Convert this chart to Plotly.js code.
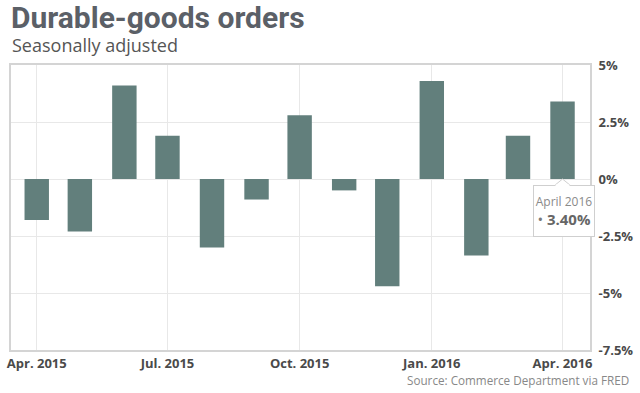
<!DOCTYPE html>
<html>
<head>
<meta charset="utf-8">
<script src="https://cdn.plot.ly/plotly-3.0.1.min.js"></script>
<style>
html,body{margin:0;padding:0;background:#fff;}
#chart{width:640px;height:393px;}
</style>
</head>
<body>
<div id="chart"></div>
<script>
// ---- data ----
const months = ['2015-04-01','2015-05-01','2015-06-01','2015-07-01','2015-08-01','2015-09-01',
                '2015-10-01','2015-11-01','2015-12-01','2016-01-01','2016-02-01','2016-03-01','2016-04-01'];
const changes = [-1.8, -2.3, 4.1, 1.9, -3.0, -0.9, 2.8, -0.5, -4.7, 4.3, -3.35, 1.9, 3.4];
const xTickVals = ['2015-04-01','2015-07-01','2015-10-01','2016-01-01','2016-04-01'];
const xTickText = ['Apr. 2015','Jul. 2015','Oct. 2015','Jan. 2016','Apr. 2016'];
const yTickVals = [5, 2.5, 0, -2.5, -5, -7.5];
const yTickText = yTickVals.map(v => v + '%');
const tooltipLabel = 'April 2016';
const titleText = 'Durable-goods orders';
const subtitleText = 'Seasonally adjusted';
const sourceText = 'Source: Commerce Department via FRED';

// ---- layout geometry ----
const W = 640, H = 393;
const M = {l: 11, r: 50, t: 65, b: 42.5};
const pw = W - M.l - M.r, ph = H - M.t - M.b;
const px2x = p => (p - M.l) / pw;
const px2y = p => (H - M.b - p) / ph;

const barColor = '#627f7c';
const gridColor = '#e8e8e8';
const DAY = 86400000;

const last = months.length - 1;

const trace = {
  type: 'bar',
  x: months,
  y: changes,
  width: months.map(() => 17 * DAY),
  marker: {color: barColor},
  hoverinfo: 'skip'
};

const tipBase = {xref: 'x', yref: 'y', x: months[last], y: 0, xanchor: 'center', showarrow: false};

const layout = {
  width: W, height: H,
  margin: M,
  paper_bgcolor: '#fff',
  plot_bgcolor: '#fff',
  showlegend: false,
  title: {
    text: '<b>' + titleText + '</b>',
    font: {family: 'Roboto', size: 30, color: '#5b6067'},
    xref: 'container', x: 11 / W, xanchor: 'left',
    yref: 'container', y: 1 - 17 / H, yanchor: 'middle'
  },
  xaxis: {
    type: 'date',
    range: ['2015-03-14 02:00', '2016-04-20 03:00'],
    tickmode: 'array',
    tickvals: xTickVals,
    ticktext: xTickText,
    showgrid: true,
    gridcolor: gridColor,
    gridwidth: 1,
    showline: true,
    mirror: true,
    linecolor: '#d4d4d4',
    linewidth: 2,
    ticks: '',
    tickfont: {family: 'Open Sans', size: 13, color: '#4a4a4a', weight: 700},
    fixedrange: true
  },
  yaxis: {
    side: 'right',
    range: [-7.5, 5],
    tickmode: 'array',
    tickvals: yTickVals,
    ticktext: yTickText,
    showgrid: true,
    gridcolor: gridColor,
    gridwidth: 1,
    zeroline: false,
    showline: true,
    mirror: true,
    linecolor: '#d4d4d4',
    linewidth: 2,
    ticks: '',
    ticklabelstandoff: 4,
    tickfont: {family: 'Open Sans', size: 13, color: '#4a4a4a', weight: 700},
    fixedrange: true
  },
  shapes: [
    {
      type: 'path',
      xref: 'x', yref: 'y',
      xsizemode: 'pixel', ysizemode: 'pixel',
      xanchor: months[last], yanchor: 0,
      path: 'M -8,-6.5 L 0,0 L 8,-6.5',
      fillcolor: '#ffffff',
      line: {color: '#cfcfcf', width: 1},
      layer: 'above'
    }
  ],
  annotations: [
    {
      xref: 'paper', yref: 'paper',
      x: px2x(10), y: px2y(45), xanchor: 'left', yanchor: 'middle',
      text: subtitleText, showarrow: false,
      font: {family: 'Open Sans', size: 18, color: '#555555'}
    },
    {
      xref: 'paper', yref: 'paper',
      x: px2x(631), y: px2y(381), xanchor: 'right', yanchor: 'middle',
      text: sourceText, showarrow: false,
      font: {family: 'Open Sans', size: 11.7, color: '#888888'}
    },
    // tooltip box with label and value
    Object.assign({}, tipBase, {
      yanchor: 'top', yshift: -6, xshift: 1,
      text: '<span style="font-size:12px;color:#8a8a8a">' + tooltipLabel + '</span><br>' +
            '<span style="font-size:15px;color:#7a7a7a">•</span>' +
            '<span style="font-size:15px;color:#666666"><b> ' + changes[last].toFixed(2) + '%</b></span>',
      font: {family: 'Open Sans', size: 14, color: '#666666'},
      align: 'center',
      bgcolor: '#ffffff', bordercolor: '#cfcfcf', borderwidth: 1, borderpad: 0,
      width: 60, height: 50
    }),
    // cover for notch base
    Object.assign({}, tipBase, {
      yanchor: 'top', yshift: -5,
      text: '&nbsp;', font: {size: 1},
      bgcolor: '#ffffff', borderpad: 0,
      width: 13, height: 2
    })
  ]
};

Plotly.newPlot('chart', [trace], layout, {staticPlot: true, displayModeBar: false});
</script>
</body>
</html>
